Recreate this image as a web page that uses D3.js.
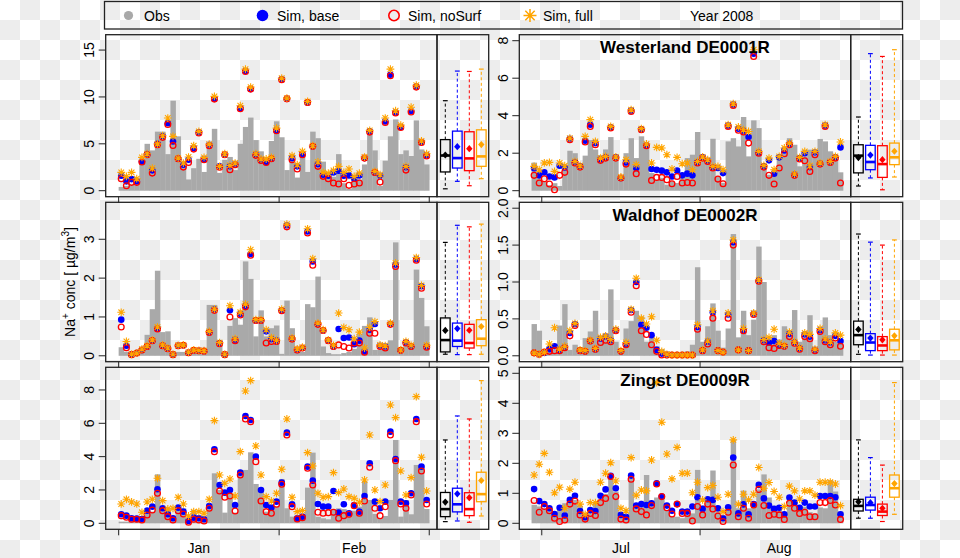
<!DOCTYPE html>
<html><head><meta charset="utf-8">
<script src="https://cdn.jsdelivr.net/npm/d3@7/dist/d3.min.js"></script>
<style>
body{margin:0;background:#fff}
svg{display:block}
text{font-family:"Liberation Sans",Arial,Helvetica,sans-serif;fill:#000}
</style>
</head><body>
<svg id="chart" width="960" height="558"></svg>
<script>
// ---------------- data ----------------
const seriesNames = ["Obs", "Sim, base", "Sim, noSurf", "Sim, full"];
const yearLabel = "Year 2008";
const stationNames = ["Westerland DE0001R", "Waldhof DE0002R", "Zingst DE0009R"];
const yTitle = ["Na", "+", " conc [ µg/m", "3", "]"];
const winterStart = "2008-01-01";   // 60 daily values
const summerStart = "2008-06-29";   // 61 daily values
const winterMonthLabels = ["Jan", "Feb"];
const summerMonthLabels = ["Jul", "Aug"];

const westerlandTicks = [[0, 5, 10, 15], [0, 2, 4, 6, 8]];
const waldhofTicks = [[0, 1, 2, 3], [0.0, 0.5, 1.0, 1.5, 2.0]];
const zingstTicks = [[0, 2, 4, 6, 8], [0, 1, 2, 3, 4, 5]];
// upper end of each panel's value range (winter, summer)
const westerlandYMax = [16, 8];
const waldhofYMax = [3.8, 2];
const zingstYMax = [9, 5];

// Westerland, Jan-Feb
const westerlandWinterObs = [0.4,0.5,0.6,0.6,3.4,5.0,4.3,6.3,6.3,3.9,9.6,5.8,3.0,1.2,2.4,3.4,2.0,4.8,6.6,1.9,3.3,3.6,2.2,5.0,6.8,7.8,5.4,4.2,3.6,5.3,7.4,5.7,2.2,3.9,1.4,3.8,2.0,6.3,5.6,3.1,1.9,1.5,3.9,0.8,0.2,1.5,1.2,2.8,6.2,4.3,0.5,3.2,5.8,7.6,3.9,4.3,3.7,7.5,4.4,2.8];
const westerlandWinterBase = [1.6,1.0,1.24,1.0,3.13,3.9,2.17,5.0,5.79,7.2,5.26,3.41,2.77,3.3,4.55,6.22,3.38,4.9,9.8,2.6,3.84,2.6,2.84,8.81,12.76,10.84,3.84,3.27,3.06,3.41,6.43,11.9,9.8,3.48,2.6,3.9,9.42,4.73,2.84,1.7,1.6,1.95,2.13,1.6,1.63,1.31,1.63,3.48,6.33,1.95,1.6,7.39,12.37,8.35,6.8,2.5,8.5,11.1,5.2,3.8];
const westerlandWinterNoSurf = [1.28,0.53,0.89,0.89,3.06,3.84,1.88,4.9,5.69,7.07,4.83,3.41,2.52,3.02,4.44,6.15,3.3,4.8,9.77,2.5,3.84,2.24,2.77,8.74,12.72,10.84,3.77,3.23,3.02,3.41,6.4,11.83,9.8,3.3,2.31,3.84,9.42,4.73,2.6,1.53,1.28,0.82,0.71,1.28,0.57,0.71,0.82,3.48,6.25,1.95,0.92,7.28,12.26,8.3,6.75,2.2,8.4,11.05,5.15,3.7];
const westerlandWinterFull = [1.95,1.53,1.95,1.28,3.55,3.94,2.4,5.0,5.86,7.75,5.79,3.48,2.95,3.59,4.8,6.33,3.55,4.97,10.06,2.6,3.94,2.7,2.95,9.06,12.97,11.05,3.94,3.38,3.38,3.55,6.68,12.0,9.88,3.73,2.77,4.19,9.52,4.8,3.06,1.95,1.88,2.17,2.6,1.95,2.31,1.53,1.88,3.59,6.43,2.06,1.7,7.75,12.97,8.53,7.0,2.6,8.9,11.25,5.3,3.94];

// Westerland, Jul-Aug
const westerlandSummerObs = [1.5,0.95,0.5,0.3,0.4,0.25,1.15,2.13,2.0,1.3,1.87,2.7,2.2,1.9,2.2,2.86,1.74,0.68,2.0,2.8,1.74,2.9,2.45,0.94,0.59,0.68,0.32,0.5,0.41,0.76,1.74,1.92,3.13,1.92,1.65,2.77,0.76,0.41,2.63,2.8,2.36,3.93,1.83,3.75,3.34,1.12,0.85,1.12,1.92,2.28,2.8,2.45,1.3,1.83,2.19,1.87,2.76,2.63,2.1,1.87,0.98];
const westerlandSummerBase = [1.2,0.82,0.98,0.76,0.71,1.33,1.24,2.77,1.53,1.3,2.67,3.52,2.54,1.69,1.8,3.38,1.78,0.68,1.51,4.27,1.21,3.27,2.42,1.16,1.12,1.07,0.98,0.76,1.07,0.82,0.91,0.82,1.53,1.78,1.6,1.24,1.21,0.94,3.47,4.59,3.31,3.2,2.86,7.31,2.04,1.3,1.62,0.91,1.78,2.15,2.5,0.85,1.74,2.0,1.26,2.04,1.44,3.47,1.53,1.78,2.31];
const westerlandSummerNoSurf = [0.82,0.41,0.64,0.36,0.05,0.82,0.98,2.72,1.48,1.26,2.6,3.43,2.45,1.62,1.74,3.34,1.74,0.68,1.42,4.23,0.91,3.25,2.4,0.55,0.71,0.71,0.59,0.37,0.76,0.41,0.44,0.41,1.48,1.74,1.56,1.21,0.62,0.37,3.43,4.55,3.22,3.13,2.54,7.16,2.0,1.26,0.82,0.36,1.21,1.97,2.45,0.82,1.69,1.6,1.03,1.92,1.42,3.43,1.51,1.74,0.41];
const westerlandSummerFull = [1.3,1.12,1.48,1.51,1.03,1.48,1.33,2.8,1.56,1.33,2.9,3.79,2.63,1.74,1.83,3.43,1.8,0.73,1.65,4.32,1.39,3.31,2.49,1.48,2.31,2.28,1.92,1.16,1.78,1.44,1.48,1.12,1.56,1.8,1.65,1.3,1.3,1.12,3.52,4.64,3.4,3.25,3.16,7.52,2.1,1.35,1.74,1.12,1.83,2.28,2.54,0.89,1.78,2.1,1.33,2.1,1.48,3.52,1.56,1.83,2.6];

// Waldhof, Jan-Feb
const waldhofWinterObs = [0.22,0.1,0.05,0.05,0.1,0.54,1.2,2.19,0.61,0.63,0.1,0.1,0.1,0.1,0.1,0.1,0.1,1.31,1.31,0.41,0.1,0.77,0.97,0.8,2.43,1.98,0.5,1.17,0.5,0.71,0.78,0.05,1.42,0.71,0.1,0.1,1.33,1.25,2.04,0.24,0.07,0.04,0.04,0.07,0.1,0.18,0.56,0.77,0.99,0.15,0.15,0.18,0.4,2.92,0.07,0.4,0.2,2.22,1.49,0.76];
const waldhofWinterBase = [0.93,0.26,0.03,0.07,0.15,0.24,0.39,0.71,0.26,0.18,0.03,0.26,0.27,0.08,0.14,0.13,0.12,0.61,1.19,0.32,0.03,1.17,0.41,1.08,1.29,2.62,0.91,0.91,0.63,0.43,0.39,1.17,3.36,0.44,0.15,0.2,3.2,2.43,0.82,0.65,0.39,0.24,0.69,0.46,0.47,0.3,0.39,0.11,0.67,0.82,0.26,0.24,0.82,2.35,0.14,0.34,0.24,2.49,1.79,0.24];
const waldhofWinterNoSurf = [0.74,0.21,0.03,0.07,0.15,0.24,0.39,0.69,0.26,0.18,0.03,0.26,0.27,0.08,0.14,0.13,0.12,0.6,1.17,0.31,0.03,1.0,0.39,1.05,1.26,2.59,0.91,0.91,0.33,0.37,0.37,1.16,3.32,0.43,0.15,0.2,3.16,2.33,0.81,0.65,0.39,0.24,0.28,0.24,0.2,0.33,0.33,0.09,0.58,0.58,0.24,0.2,0.81,2.3,0.14,0.33,0.24,2.46,1.74,0.22];
const waldhofWinterFull = [1.12,0.37,0.04,0.07,0.17,0.26,0.41,0.74,0.28,0.2,0.04,0.27,0.28,0.09,0.15,0.14,0.13,0.63,1.2,0.34,0.04,1.29,0.44,1.12,1.33,2.73,0.93,0.93,0.67,0.47,0.4,1.2,3.39,0.46,0.18,0.22,3.27,2.5,0.84,0.67,0.41,0.27,1.1,0.73,0.67,0.44,0.61,0.2,0.73,0.88,0.28,0.26,0.84,2.39,0.15,0.37,0.27,2.53,1.81,0.27];

// Waldhof, Jul-Aug
const waldhofSummerObs = [0.43,0.34,0.06,0.06,0.08,0.41,0.7,0.08,0.15,0.09,0.24,0.33,0.61,0.19,0.28,0.9,0.19,0.08,0.37,0.47,0.61,0.53,0.19,0.24,0.13,0.09,0.06,0.02,0.02,0.02,0.06,0.15,1.2,0.19,0.4,0.71,0.34,0.11,0.37,1.65,0.25,0.61,0.28,0.49,1.48,1.0,0.17,0.28,0.22,0.4,0.31,0.62,0.19,0.24,0.55,0.06,0.33,0.52,0.28,0.19,0.19];
const waldhofSummerBase = [0.04,0.02,0.04,0.09,0.13,0.08,0.12,0.31,0.43,0.07,0.06,0.2,0.09,0.23,0.26,0.21,0.35,0.06,0.16,0.62,1.0,0.42,0.38,0.28,0.08,0.03,0.01,0.01,0.01,0.01,0.01,0.01,0.39,0.07,0.19,0.59,0.07,0.05,0.56,1.54,0.08,0.35,0.07,0.57,1.02,0.21,0.18,0.2,0.15,0.13,0.3,0.18,0.1,0.29,0.26,0.08,0.35,0.21,0.18,0.27,0.2];
const waldhofSummerNoSurf = [0.04,0.02,0.05,0.06,0.07,0.07,0.11,0.27,0.41,0.07,0.06,0.2,0.09,0.18,0.21,0.19,0.34,0.06,0.15,0.59,0.95,0.34,0.29,0.15,0.06,0.01,0.01,0.01,0.01,0.01,0.01,0.01,0.36,0.07,0.16,0.51,0.07,0.05,0.51,1.5,0.08,0.34,0.07,0.56,1.01,0.19,0.11,0.1,0.14,0.13,0.26,0.17,0.09,0.26,0.23,0.07,0.33,0.19,0.15,0.24,0.13];
const waldhofSummerFull = [0.04,0.02,0.05,0.16,0.38,0.09,0.13,0.34,0.44,0.08,0.07,0.21,0.1,0.25,0.27,0.22,0.36,0.07,0.18,0.63,1.05,0.51,0.43,0.53,0.21,0.06,0.02,0.01,0.01,0.01,0.01,0.01,0.42,0.08,0.2,0.61,0.07,0.05,0.58,1.57,0.08,0.37,0.07,0.58,1.03,0.22,0.25,0.36,0.17,0.14,0.32,0.19,0.11,0.31,0.29,0.09,0.37,0.23,0.19,0.31,0.28];

// Zingst, Jan-Feb
const zingstWinterObs = [0.1,0.1,0.3,0.3,0.4,0.6,0.7,2.94,0.9,0.9,0.3,0.9,0.9,0.15,0.8,0.4,0.4,0.9,3.0,2.0,0.64,1.8,0.64,3.2,3.2,4.26,2.36,2.1,0.7,0.85,1.0,2.66,0.9,0.4,0.4,0.56,2.14,4.24,0.4,0.3,0.24,0.85,0.9,0.85,0.4,0.76,1.0,2.54,1.4,0.56,0.3,0.44,1.4,5.0,0.4,1.4,0.54,3.5,3.5,0.86];
const zingstWinterBase = [0.54,0.46,0.3,0.28,0.26,0.76,1.0,2.04,0.9,0.54,0.3,0.94,0.7,0.14,0.34,0.3,0.24,1.04,4.44,2.3,1.84,2.0,1.1,3.04,6.44,6.2,4.0,2.0,1.1,0.94,1.3,2.44,5.44,1.14,0.3,0.4,3.4,2.56,1.16,1.0,1.0,1.94,0.64,1.14,0.6,1.1,0.7,1.64,3.6,1.3,0.9,1.3,5.5,3.86,1.3,1.2,1.8,6.26,3.4,1.4];
const zingstWinterNoSurf = [0.46,0.36,0.24,0.24,0.2,0.5,0.8,1.8,0.76,0.4,0.2,0.76,0.56,0.06,0.24,0.2,0.14,0.9,4.3,1.94,1.56,1.64,0.74,2.9,6.26,6.1,3.7,1.34,0.7,0.6,1.14,2.34,5.3,1.0,0.26,0.34,3.3,2.3,0.66,0.6,0.64,0.66,0.3,0.46,0.54,1.06,0.6,1.34,3.36,0.9,0.46,1.0,5.3,3.76,1.16,0.9,1.7,6.1,3.14,1.16];
const zingstWinterFull = [1.16,1.44,1.28,1.16,0.66,1.28,1.44,2.7,1.36,0.86,0.9,1.56,1.16,0.44,0.7,0.7,0.6,1.44,6.16,2.9,2.4,2.66,1.64,4.3,7.94,8.56,4.64,2.9,1.6,1.34,1.8,3.24,6.26,1.56,0.7,0.76,4.24,3.44,1.8,1.56,1.6,3.04,1.84,2.06,1.6,1.5,1.26,2.6,5.3,2.0,1.3,2.3,7.1,6.34,3.14,1.7,2.74,7.6,3.96,1.94];

// Zingst, Jul-Aug
const zingstSummerObs = [0.61,0.56,0.5,0.41,0.3,0.45,0.67,0.76,0.78,0.58,0.22,0.39,0.69,0.78,0.98,1.56,1.06,0.31,0.25,1.61,0.61,0.64,1.61,0.67,0.86,0.8,0.44,0.22,0.22,0.17,0.28,0.33,1.78,0.59,0.72,1.76,0.56,0.22,0.42,2.78,0.5,1.09,0.5,0.59,1.13,1.63,0.86,0.58,0.44,0.25,0.78,0.67,0.5,0.55,0.37,0.33,0.53,0.5,1.44,1.06,0.39];
const zingstSummerBase = [1.14,0.74,0.64,0.5,0.31,0.52,0.26,0.78,0.92,0.41,0.2,0.44,0.41,0.92,1.13,1.58,1.17,0.28,0.22,1.59,0.59,0.64,0.61,0.67,1.33,0.89,0.59,0.42,0.64,0.39,0.39,0.56,0.87,0.48,0.8,0.78,0.5,0.17,0.53,2.19,0.33,0.63,0.3,0.64,1.28,0.83,0.59,0.48,0.52,0.3,0.86,0.69,0.52,0.69,0.56,0.56,0.91,0.91,0.91,0.87,0.3];
const zingstSummerNoSurf = [0.76,0.37,0.56,0.42,0.17,0.06,0.11,0.64,0.74,0.28,0.14,0.33,0.26,0.69,0.83,1.56,0.89,0.14,0.11,1.47,0.48,0.39,0.28,0.59,1.31,0.89,0.52,0.31,0.64,0.33,0.33,0.08,0.56,0.28,0.64,0.48,0.24,0.06,0.37,1.94,0.22,0.5,0.17,0.61,1.13,0.59,0.26,0.3,0.28,0.13,0.67,0.5,0.33,0.37,0.22,0.22,0.69,0.69,0.76,0.61,0.13];
const zingstSummerFull = [1.61,1.97,2.33,1.7,1.02,1.2,0.5,1.14,1.37,0.64,0.3,0.69,0.69,1.37,1.67,2.02,1.41,0.5,0.42,2.19,0.94,1.11,1.08,2.11,4.69,3.37,2.31,1.48,2.53,1.67,1.67,1.02,1.37,0.78,1.19,1.26,0.87,0.39,0.97,2.78,0.64,0.97,0.78,0.97,1.86,1.17,1.36,1.06,0.87,0.56,1.24,1.08,0.81,1.08,1.08,0.94,1.37,1.37,1.37,1.31,0.59];

// ---------------- layout / style ----------------
const colors = ["#a9a9a9", "#0000ff", "#ff0000", "#ffa500"];
const boxColors = ["#000000", "#0000ff", "#ff0000", "#ffa500"];
const DAY = 864e5;
const utc = s => new Date(s + "T00:00:00Z");

const cols = [
  {x0: 105.7, x1: 437, bx1: 488.7, boxOff: 8.3, start: utc(winterStart),
   domain: [new Date(+utc("2008-01-01") - 2.5 * DAY), new Date(+utc("2008-03-01") + 1.5 * DAY)],
   ticks: [utc("2008-01-01"), utc("2008-02-01"), utc("2008-03-01")],
   months: [[utc("2008-01-01"), utc("2008-02-01")], [utc("2008-02-01"), utc("2008-03-01")]],
   monthLabels: winterMonthLabels},
  {x0: 519.3, x1: 850.7, bx1: 902.7, boxOff: 7.7, start: utc(summerStart),
   domain: [new Date(+utc("2008-07-01") - 4.4 * DAY), new Date(+utc("2008-08-01") + 29.5 * DAY)],
   ticks: [utc("2008-07-01"), utc("2008-08-01")],
   months: [[utc("2008-07-01"), utc("2008-08-01")], [utc("2008-08-01"), utc("2008-09-01")]],
   monthLabels: summerMonthLabels}
];
const rows = [[34.7, 196.7], [202.3, 361.7], [367.3, 529.3]];

const panels = [
  {r: 0, c: 0, ticks: westerlandTicks[0], ymax: westerlandYMax[0], fmt: d3.format("d"), data: [westerlandWinterObs, westerlandWinterBase, westerlandWinterNoSurf, westerlandWinterFull]},
  {r: 0, c: 1, ticks: westerlandTicks[1], ymax: westerlandYMax[1], fmt: d3.format("d"), title: stationNames[0], data: [westerlandSummerObs, westerlandSummerBase, westerlandSummerNoSurf, westerlandSummerFull]},
  {r: 1, c: 0, ticks: waldhofTicks[0], ymax: waldhofYMax[0], fmt: d3.format("d"), data: [waldhofWinterObs, waldhofWinterBase, waldhofWinterNoSurf, waldhofWinterFull]},
  {r: 1, c: 1, ticks: waldhofTicks[1], ymax: waldhofYMax[1], fmt: d3.format(".1f"), title: stationNames[1], data: [waldhofSummerObs, waldhofSummerBase, waldhofSummerNoSurf, waldhofSummerFull]},
  {r: 2, c: 0, ticks: zingstTicks[0], ymax: zingstYMax[0], fmt: d3.format("d"), data: [zingstWinterObs, zingstWinterBase, zingstWinterNoSurf, zingstWinterFull]},
  {r: 2, c: 1, ticks: zingstTicks[1], ymax: zingstYMax[1], fmt: d3.format("d"), title: stationNames[2], data: [zingstSummerObs, zingstSummerBase, zingstSummerNoSurf, zingstSummerFull]}
];

const svg = d3.select("#chart");

// transparent-looking checkerboard background
const defs = svg.append("defs");
const pat = defs.append("pattern").attr("id", "checker").attr("width", 40).attr("height", 40).attr("patternUnits", "userSpaceOnUse");
pat.append("rect").attr("width", 40).attr("height", 40).attr("fill", "#ffffff");
pat.append("rect").attr("x", 20).attr("y", 0).attr("width", 20).attr("height", 20).attr("fill", "#ededed");
pat.append("rect").attr("x", 0).attr("y", 20).attr("width", 20).attr("height", 20).attr("fill", "#ededed");
svg.append("rect").attr("width", 960).attr("height", 558).attr("fill", "url(#checker)");

const starPath = s => { const d = s * 0.72; return `M${-s},0H${s}M0,${-s}V${s}M${-d},${-d}L${d},${d}M${-d},${d}L${d},${-d}`; };

function drawStar(g, x, y, s, w) {
  g.append("path").attr("transform", `translate(${x},${y})`).attr("d", starPath(s))
    .attr("stroke", colors[3]).attr("stroke-width", w).attr("fill", "none");
}

panels.forEach(p => {
  const col = cols[p.c], [y0, y1] = rows[p.r];
  const pad = p.ymax * 0.04;
  const x = d3.scaleUtc().domain(col.domain).range([col.x0, col.x1]);
  const y = d3.scaleLinear().domain([-pad, p.ymax + pad]).range([y1, y0]);
  const g = svg.append("g");
  const dayStart = i => new Date(+col.start + i * DAY);
  const dayMid = i => new Date(+col.start + (i + 0.5) * DAY);

  // obs bars
  g.append("g").selectAll("rect").data(p.data[0]).join("rect")
    .attr("x", (d, i) => x(dayStart(i)))
    .attr("width", (d, i) => x(dayStart(i + 1)) - x(dayStart(i)) + 0.3)
    .attr("y", d => y(d)).attr("height", d => y(0) - y(d))
    .attr("fill", colors[0]);

  // blue filled
  g.append("g").selectAll("circle").data(p.data[1]).join("circle")
    .attr("cx", (d, i) => x(dayMid(i))).attr("cy", d => y(d)).attr("r", 3.3).attr("fill", colors[1]);
  // red open
  g.append("g").selectAll("circle").data(p.data[2]).join("circle")
    .attr("cx", (d, i) => x(dayMid(i))).attr("cy", d => y(d)).attr("r", 2.9)
    .attr("fill", "none").attr("stroke", colors[2]).attr("stroke-width", 1.3);
  // orange stars
  g.append("g").selectAll("path").data(p.data[3]).join("path")
    .attr("transform", (d, i) => `translate(${x(dayMid(i))},${y(d)})`)
    .attr("d", starPath(3.9)).attr("stroke", colors[3]).attr("stroke-width", 1.1).attr("fill", "none");

  // frames
  g.append("rect").attr("x", col.x0).attr("y", y0).attr("width", col.x1 - col.x0).attr("height", y1 - y0)
    .attr("fill", "none").attr("stroke", "#222").attr("stroke-width", 1.3);
  g.append("rect").attr("x", col.x1).attr("y", y0).attr("width", col.bx1 - col.x1).attr("height", y1 - y0)
    .attr("fill", "none").attr("stroke", "#222").attr("stroke-width", 1.3);

  // y axis
  p.ticks.forEach(t => {
    g.append("line").attr("x1", col.x0 - 7).attr("x2", col.x0).attr("y1", y(t)).attr("y2", y(t))
      .attr("stroke", "#222").attr("stroke-width", 1);
    g.append("text").attr("transform", `translate(${col.x0 - 11.5},${y(t)}) rotate(-90)`)
      .attr("text-anchor", "middle").attr("font-size", 14).text(p.fmt(t));
  });

  // x ticks
  col.ticks.forEach(t => {
    g.append("line").attr("x1", x(t)).attr("x2", x(t)).attr("y1", y1).attr("y2", y1 + 6)
      .attr("stroke", "#222").attr("stroke-width", 1);
  });
  if (p.r === 2) {
    col.months.forEach((m, i) => {
      g.append("text").attr("x", (x(m[0]) + x(m[1])) / 2).attr("y", 553)
        .attr("text-anchor", "middle").attr("font-size", 14).text(col.monthLabels[i]);
    });
  }

  if (p.title) {
    g.append("text").attr("x", (col.x0 + col.x1) / 2).attr("y", y0 + 18.2)
      .attr("text-anchor", "middle").attr("font-size", 17).attr("font-weight", "bold").text(p.title);
  }

  // box plots
  p.data.forEach((arr, k) => {
    const s = arr.slice().sort(d3.ascending);
    const q1 = d3.quantile(s, 0.25), med = d3.quantile(s, 0.5), q3 = d3.quantile(s, 0.75);
    const mn = s[0], mx = s[s.length - 1], mean = d3.mean(s);
    const cx = col.x1 + col.boxOff + 12 * k, w = 9.6, c = boxColors[k];
    const bg = g.append("g");
    bg.append("line").attr("x1", cx).attr("x2", cx).attr("y1", y(q3)).attr("y2", y(mx))
      .attr("stroke", c).attr("stroke-width", 1).attr("stroke-dasharray", "3,2.5");
    bg.append("line").attr("x1", cx).attr("x2", cx).attr("y1", y(q1)).attr("y2", y(mn))
      .attr("stroke", c).attr("stroke-width", 1).attr("stroke-dasharray", "3,2.5");
    [mx, mn].forEach(v => bg.append("line").attr("x1", cx - 2.4).attr("x2", cx + 2.4)
      .attr("y1", y(v)).attr("y2", y(v)).attr("stroke", c).attr("stroke-width", 1.2));
    bg.append("rect").attr("x", cx - w / 2).attr("y", y(q3)).attr("width", w).attr("height", y(q1) - y(q3))
      .attr("fill", "none").attr("stroke", c).attr("stroke-width", 1.3);
    bg.append("line").attr("x1", cx - w / 2).attr("x2", cx + w / 2).attr("y1", y(med)).attr("y2", y(med))
      .attr("stroke", c).attr("stroke-width", 2.6);
    bg.append("path").attr("transform", `translate(${cx},${y(mean)})`)
      .attr("d", "M0,-3.6L3.2,0L0,3.6L-3.2,0Z").attr("fill", c);
  });
});

// y-axis title
const yt = svg.append("text").attr("transform", "translate(75,282) rotate(-90)")
  .attr("text-anchor", "middle").attr("font-size", 14);
yt.append("tspan").text(yTitle[0]);
yt.append("tspan").attr("font-size", 10).attr("dy", -6).text(yTitle[1]);
yt.append("tspan").attr("dy", 6).text(yTitle[2]);
yt.append("tspan").attr("font-size", 10).attr("dy", -6).text(yTitle[3]);
yt.append("tspan").attr("dy", 6).text(yTitle[4]);

// legend
const lg = svg.append("g");
lg.append("rect").attr("x", 104.5).attr("y", 1.5).attr("width", 798).attr("height", 27.5)
  .attr("fill", "none").attr("stroke", "#222").attr("stroke-width", 1.3);
const ly = 15.5;
lg.append("circle").attr("cx", 128.5).attr("cy", ly).attr("r", 4.6).attr("fill", colors[0]);
lg.append("circle").attr("cx", 262.5).attr("cy", ly).attr("r", 5.8).attr("fill", colors[1]);
lg.append("circle").attr("cx", 394).attr("cy", ly).attr("r", 5.2).attr("fill", "none").attr("stroke", colors[2]).attr("stroke-width", 1.6);
drawStar(lg, 530, ly, 6.5, 1.5);
const legX = [144, 277, 408, 543];
seriesNames.forEach((s, i) => lg.append("text").attr("x", legX[i]).attr("y", ly + 5).attr("font-size", 14).text(s));
lg.append("text").attr("x", 690).attr("y", ly + 5).attr("font-size", 14).text(yearLabel);
</script>
</body></html>
